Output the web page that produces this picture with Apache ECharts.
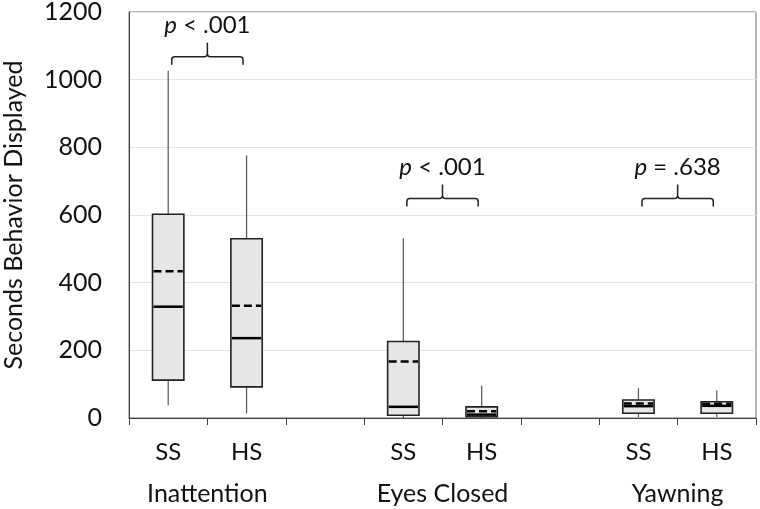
<!DOCTYPE html>
<html>
<head>
<meta charset="utf-8">
<script src="https://cdn.jsdelivr.net/npm/echarts@6/dist/echarts.min.js"></script>
<style>
html,body{margin:0;padding:0;background:#fff;}
#chart{width:760px;height:509px;}
</style>
</head>
<body>
<div id="chart"></div>
<script>
// ---- data ----
const categories = ['SS', 'HS', '', 'SS', 'HS', '', 'SS', 'HS'];
const groupNames = ['Inattention', 'Eyes Closed', 'Yawning'];
const groupFirstIndex = [0, 3, 6];
const whiskerLow  = [38, 14, null, 0, 0, null, 3, 3];
const q1          = [112, 92, null, 8, 4, null, 14, 14];
const median      = [329, 236, null, 33, 10, null, 35, 36];
const q3          = [602, 530, null, 226, 33, null, 53, 48];
const whiskerHigh = [1026, 776, null, 531, 95, null, 88, 81];
const means       = [434, 332, null, 167, 20, null, 43, 42];
const pOperators  = ['< .001', '< .001', '= .638'];
const bracketLevel = [1068, 649, 649];
const yTicks = [0, 200, 400, 600, 800, 1000, 1200];

const FONT = 'Lato';
const boxData = [];
for (let i = 0; i < categories.length; i++) {
  if (q1[i] == null) continue;
  boxData.push([i, whiskerLow[i], q1[i], median[i], q3[i], whiskerHigh[i], means[i]]);
}
const bracketData = groupFirstIndex.map((g, k) => [g, bracketLevel[k], k]);

const chart = echarts.init(document.getElementById('chart'), null, {renderer: 'canvas'});
chart.setOption({
  animation: false,
  backgroundColor: '#fff',
  grid: {left: 129, right: 4, top: 12, bottom: 91, show: true, borderColor: '#6e6e6e', borderWidth: 1,
    containLabel: false, outerBoundsMode: 'none'},
  xAxis: {
    type: 'category',
    data: categories,
    boundaryGap: true,
    axisLine: {show: true, lineStyle: {color: '#404040', width: 1}},
    axisTick: {show: true, interval: 0, length: 7, lineStyle: {color: '#404040'}},
    axisLabel: {interval: 0, margin: 22, fontFamily: FONT, fontSize: 24, color: '#111'},
    splitLine: {show: false}
  },
  yAxis: {
    type: 'value',
    min: yTicks[0], max: yTicks[yTicks.length - 1], interval: 200,
    name: 'Seconds Behavior Displayed',
    nameLocation: 'middle', nameRotate: 90, nameGap: 103,
    nameTextStyle: {fontFamily: FONT, fontSize: 25, color: '#111'},
    axisLine: {show: true, lineStyle: {color: '#404040'}},
    axisTick: {show: false},
    axisLabel: {margin: 27, fontFamily: FONT, fontSize: 25, color: '#111', formatter: v => String(v)},
    splitLine: {show: true, lineStyle: {color: '#e3e3e3', width: 1}}
  },
  series: [
    {
      type: 'custom',
      data: boxData,
      encode: {x: 0, y: [1, 2, 3, 4, 5, 6]},
      renderItem: function (params, api) {
        const x = api.coord([api.value(0), 0])[0];
        const band = api.size([1, 0])[0];
        const hw = band * 0.2;
        const yLow = api.coord([api.value(0), api.value(1)])[1];
        const yQ1 = api.coord([api.value(0), api.value(2)])[1];
        const yMed = api.coord([api.value(0), api.value(3)])[1];
        const yQ3 = api.coord([api.value(0), api.value(4)])[1];
        const yHigh = api.coord([api.value(0), api.value(5)])[1];
        const yMean = api.coord([api.value(0), api.value(6)])[1];
        return {
          type: 'group',
          children: [
            {type: 'line', shape: {x1: x, y1: yQ3, x2: x, y2: yHigh}, style: {stroke: '#555', lineWidth: 1.2}},
            {type: 'line', shape: {x1: x, y1: yQ1, x2: x, y2: yLow}, style: {stroke: '#555', lineWidth: 1.2}},
            {type: 'rect', shape: {x: x - hw, y: yQ3, width: hw * 2, height: yQ1 - yQ3},
              style: {fill: '#e6e6e6', stroke: '#222', lineWidth: 1.6}},
            {type: 'line', shape: {x1: x - hw + 1, y1: yMed, x2: x + hw - 1, y2: yMed}, style: {stroke: '#000', lineWidth: 2.5}},
            {type: 'line', shape: {x1: x - hw + 1, y1: yMean, x2: x + hw - 1, y2: yMean}, style: {stroke: '#000', lineWidth: 2.5, lineDash: [8, 4]}}
          ]
        };
      }
    },
    {
      type: 'custom',
      data: bracketData,
      encode: {x: 0, y: 1},
      renderItem: function (params, api) {
        const i0 = api.value(0);
        const k = api.value(2);
        const band = api.size([1, 0])[0];
        const xl = api.coord([i0, 0])[0] + band * 0.045;
        const xr = api.coord([i0 + 1, 0])[0] - band * 0.045;
        const xc = (xl + xr) / 2;
        const y = api.coord([i0, api.value(1)])[1];
        const yAxis0 = api.coord([i0, 0])[1];
        const r = 3;
        const path = 'M' + xl + ' ' + (y + 8) + ' L' + xl + ' ' + (y + r) + ' Q' + xl + ' ' + y + ' ' + (xl + r) + ' ' + y +
          ' L' + (xc - r) + ' ' + y + ' Q' + xc + ' ' + y + ' ' + xc + ' ' + (y - r) + ' L' + xc + ' ' + (y - 14) +
          ' M' + xc + ' ' + (y - r) + ' Q' + xc + ' ' + y + ' ' + (xc + r) + ' ' + y +
          ' L' + (xr - r) + ' ' + y + ' Q' + xr + ' ' + y + ' ' + xr + ' ' + (y + r) + ' L' + xr + ' ' + (y + 8);
        return {
          type: 'group',
          children: [
            {type: 'path', shape: {pathData: path}, style: {fill: null, stroke: '#222', lineWidth: 1.5}},
            {type: 'text', x: xc, y: y - 31,
              style: {
                text: '{i|p} ' + pOperators[k],
                rich: {i: {fontStyle: 'italic', fontFamily: FONT, fontSize: 24, fill: '#111'}},
                fontFamily: FONT, fontSize: 24, fill: '#111', align: 'center', verticalAlign: 'middle'
              }},
            {type: 'text', x: xc, y: yAxis0 + 76,
              style: {text: groupNames[k], fontFamily: FONT, fontSize: 25, fill: '#111', align: 'center', verticalAlign: 'middle'}}
          ]
        };
      }
    }
  ]
});
</script>
</body>
</html>
